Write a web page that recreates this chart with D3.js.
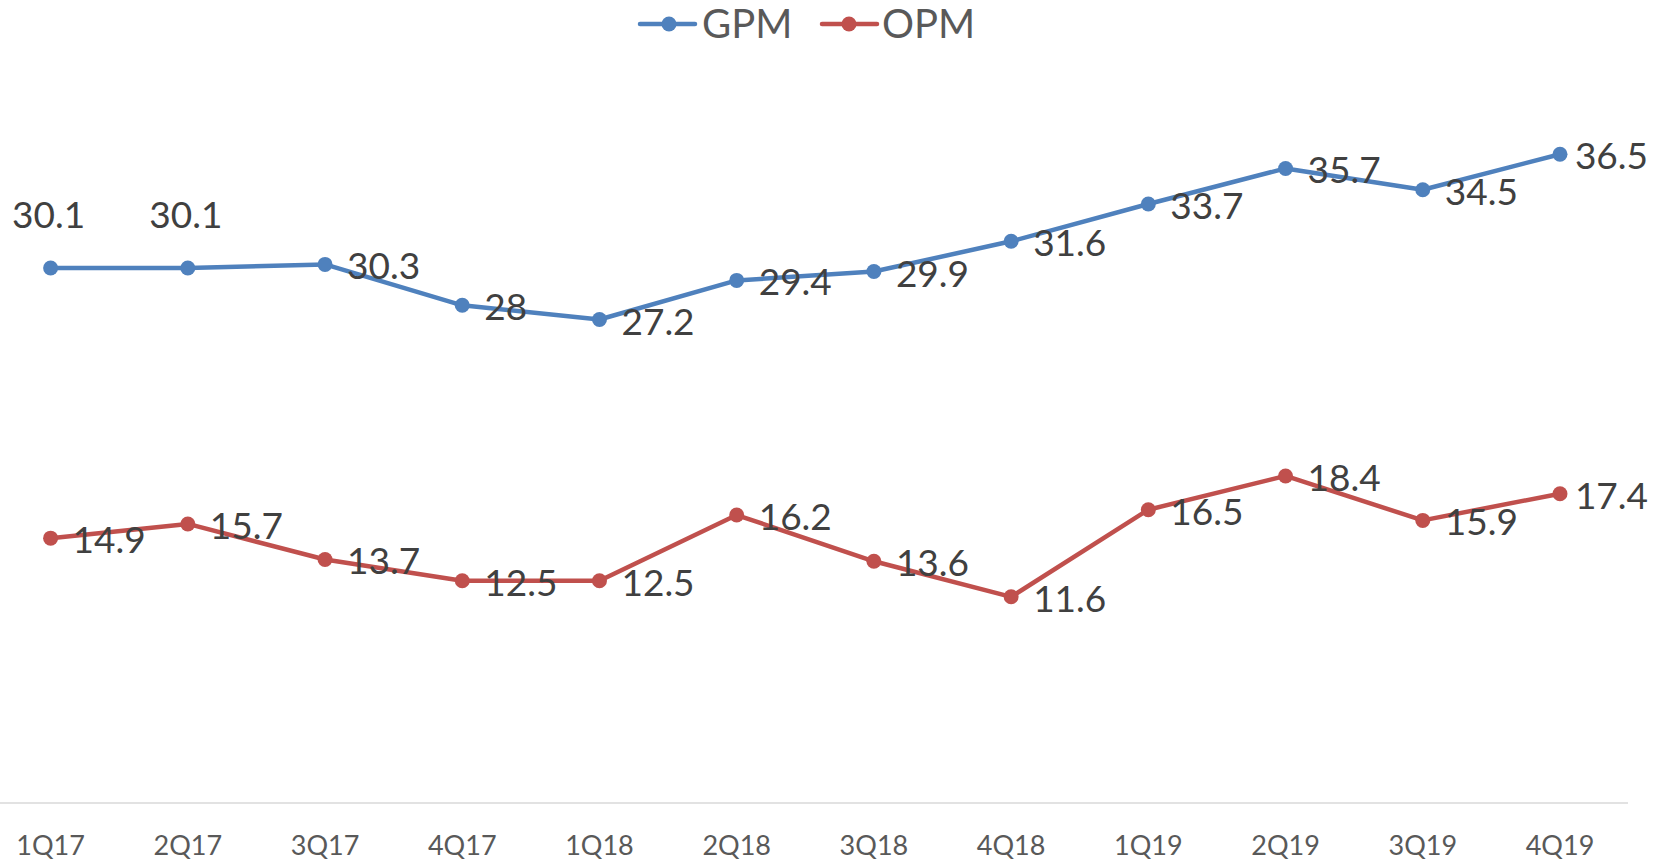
<!DOCTYPE html>
<html>
<head>
<meta charset="utf-8">
<script src="https://cdn.jsdelivr.net/npm/d3@7"></script>
<style>
  html, body { margin: 0; padding: 0; background: #fff; overflow: hidden; }
  svg { display: block; }
  text { font-family: Lato, "Open Sans", sans-serif; }
</style>
</head>
<body>
<svg id="chart" width="1671" height="861"></svg>
<script>
const categories = ["1Q17","2Q17","3Q17","4Q17","1Q18","2Q18","3Q18","4Q18","1Q19","2Q19","3Q19","4Q19"];
const gpm = [30.1, 30.1, 30.3, 28, 27.2, 29.4, 29.9, 31.6, 33.7, 35.7, 34.5, 36.5];
const opm = [14.9, 15.7, 13.7, 12.5, 12.5, 16.2, 13.6, 11.6, 16.5, 18.4, 15.9, 17.4];
const gpmLabelPos = ["top","top","right","right","right","right","right","right","right","right","right","right"];
const opmLabelPos = ["right","right","right","right","right","right","right","right","right","right","right","right"];
const seriesNames = ["GPM", "OPM"];
const seriesColors = ["#4F81BD", "#C0504D"];

const svg = d3.select("#chart");
const W = 1671, H = 861;

const x = d3.scaleBand().domain(categories).range([-18, 1628.6]);
const y = d3.scaleLinear().domain([0, 40]).range([803, 92]);
const cx = c => x(c) + x.bandwidth() / 2;

// axis line
svg.append("line")
  .attr("x1", 0).attr("x2", 1628)
  .attr("y1", y(0)).attr("y2", y(0))
  .attr("stroke", "#D9D9D9").attr("stroke-width", 1.5);

// category labels via d3 axis
const axisG = svg.append("g")
  .attr("transform", `translate(0,${y(0)})`)
  .call(d3.axisBottom(x).tickSize(0).tickPadding(0));
axisG.select(".domain").remove();
axisG.selectAll("text")
  .attr("y", 52).attr("dy", 0)
  .attr("fill", "#595959")
  .style("font-size", "27px")
  .style("font-family", "Lato, sans-serif");

const series = [
  { name: seriesNames[0], values: gpm, color: seriesColors[0], pos: gpmLabelPos },
  { name: seriesNames[1], values: opm, color: seriesColors[1], pos: opmLabelPos }
];

const line = d3.line().x((d, i) => cx(categories[i])).y(d => y(d));

series.forEach(s => {
  const g = svg.append("g");
  g.append("path")
    .datum(s.values)
    .attr("d", line)
    .attr("fill", "none")
    .attr("stroke", s.color)
    .attr("stroke-width", 4.5)
    .attr("stroke-linejoin", "round");
  g.selectAll("circle")
    .data(s.values)
    .join("circle")
    .attr("cx", (d, i) => cx(categories[i]))
    .attr("cy", d => y(d))
    .attr("r", 7.5)
    .attr("fill", s.color);
  const labels = g.selectAll("text.lbl")
    .data(s.values)
    .join("text")
    .attr("class", "lbl")
    .attr("x", (d, i) => s.pos[i] === "top" ? cx(categories[i]) - 2 : cx(categories[i]) + 22)
    .attr("y", (d, i) => s.pos[i] === "top" ? y(d) - 40 : y(d) + 15)
    .attr("text-anchor", (d, i) => s.pos[i] === "top" ? "middle" : "start")
    .attr("fill", "#404040")
    .style("font-size", "37px")
    .text(d => d);
  // keep labels inside the chart's right edge
  labels.each(function() {
    const bb = this.getBBox();
    const over = bb.x + bb.width - 1648;
    if (over > 0) d3.select(this).attr("x", +d3.select(this).attr("x") - over);
  });
});

// legend
const legend = svg.append("g");
const legendItems = [
  { x0: 640, x1: 695, mx: 669, tx: 702 },
  { x0: 822, x1: 877, mx: 849, tx: 882 }
];
series.forEach((s, i) => {
  const L = legendItems[i];
  legend.append("line")
    .attr("x1", L.x0).attr("x2", L.x1).attr("y1", 24).attr("y2", 24)
    .attr("stroke", s.color).attr("stroke-width", 4.5).attr("stroke-linecap", "round");
  legend.append("circle").attr("cx", L.mx).attr("cy", 24).attr("r", 7.5).attr("fill", s.color);
  legend.append("text")
    .attr("x", L.tx).attr("y", 38)
    .attr("fill", "#595959")
    .style("font-size", "40px")
    .text(s.name);
});
</script>
</body>
</html>
